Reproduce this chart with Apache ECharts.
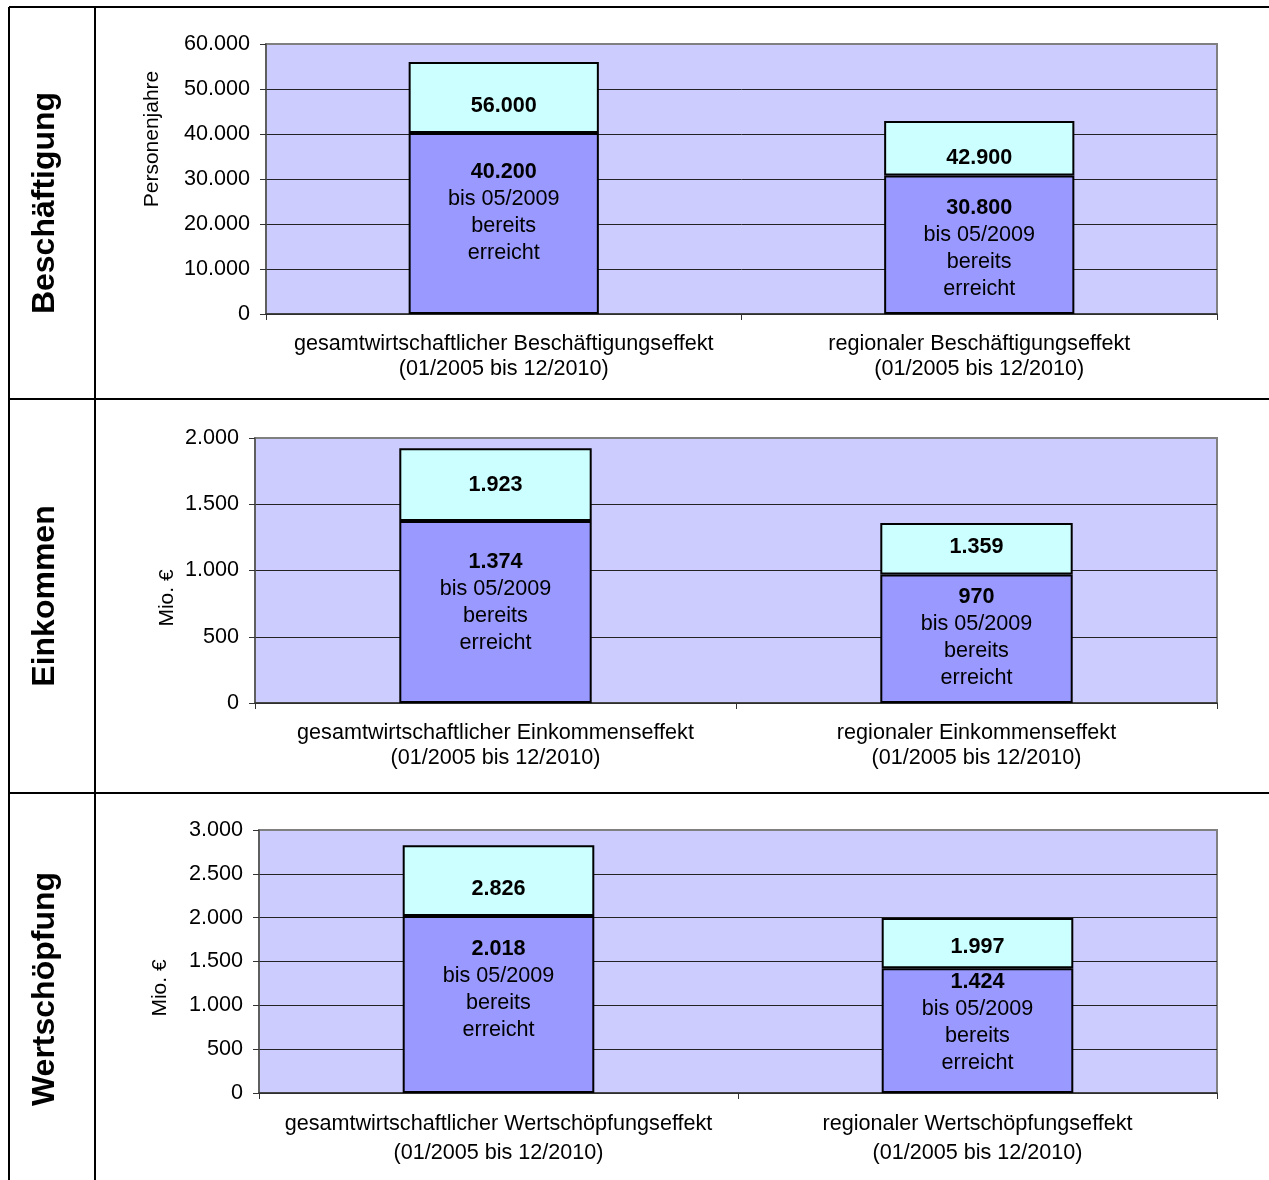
<!DOCTYPE html>
<html>
<head>
<meta charset="utf-8">
<title>Beschäftigungs-, Einkommens- und Wertschöpfungseffekte</title>
<script src="https://cdn.jsdelivr.net/npm/echarts@6/dist/echarts.min.js"></script>
<style>
  html, body { margin: 0; padding: 0; background: #fff; }
  #chart { width: 1269px; height: 1180px; }
</style>
</head>
<body>
<div id="chart"></div>
<script>
// Row titles and axis names
const rowTitles = ['Beschäftigung', 'Einkommen', 'Wertschöpfung'];
const axisNames = ['Personenjahre', 'Mio. €', 'Mio. €'];

// Categories per panel
const jobsCategories = ['gesamtwirtschaftlicher Beschäftigungseffekt\n(01/2005 bis 12/2010)', 'regionaler Beschäftigungseffekt\n(01/2005 bis 12/2010)'];
const incomeCategories = ['gesamtwirtschaftlicher Einkommenseffekt\n(01/2005 bis 12/2010)', 'regionaler Einkommenseffekt\n(01/2005 bis 12/2010)'];
const valueCategories = ['gesamtwirtschaftlicher Wertschöpfungseffekt\n(01/2005 bis 12/2010)', 'regionaler Wertschöpfungseffekt\n(01/2005 bis 12/2010)'];

// Totals (01/2005 - 12/2010) and the part already reached by 05/2009
const jobsTotal = [56000, 42900];
const jobsReached = [40200, 30800];
const incomeTotal = [1923, 1359];
const incomeReached = [1374, 970];
const valueTotal = [2826, 1997];
const valueReached = [2018, 1424];

// Note text under the reached value
const reachedNote = ['bis 05/2009', 'bereits', 'erreicht'];

// Value axis ranges
const axisMax = [60000, 2000, 3000];
const axisInterval = [10000, 500, 500];

const FONT = "'Liberation Sans', Arial, sans-serif";
const FS = 21.6;

function fmt(v) {
  return String(Math.round(v)).replace(/\B(?=(\d{3})+(?!\d))/g, '.');
}

// Panel layout (pixels) and label fine-tuning
const panels = [
  { cats: jobsCategories, total: jobsTotal, reached: jobsReached,
    left: 266, top: 44, height: 270, lineHeight: 25, margin: 18,
    topDy: [8, 10], botDy: [-11, 4], nameX: 152, nameY: 139, titleY: 203 },
  { cats: incomeCategories, total: incomeTotal, reached: incomeReached,
    left: 255, top: 438, height: 265, lineHeight: 25, margin: 18,
    topDy: [0, -2], botDy: [-9, -1], nameX: 167, nameY: 598, titleY: 596 },
  { cats: valueCategories, total: valueTotal, reached: valueReached,
    left: 259, top: 830, height: 263, lineHeight: 29, margin: 17,
    topDy: [8, 4], botDy: [-15, -8], nameX: 160, nameY: 988, titleY: 989 }
];

const grids = [], xAxes = [], yAxes = [], series = [], graphics = [];

panels.forEach((p, i) => {
  grids.push({
    left: p.left, right: 52, top: p.top, height: p.height,
    show: true, backgroundColor: '#CCCCFF', borderColor: '#808080', borderWidth: 2
  });
  xAxes.push({
    type: 'category', gridIndex: i, data: p.cats,
    axisLine: { show: true, lineStyle: { color: '#333', width: 1.5 } },
    axisTick: { show: true, length: 6, lineStyle: { color: '#333' } },
    axisLabel: { color: '#000', fontFamily: FONT, fontSize: FS, lineHeight: p.lineHeight,
      margin: p.margin, interval: 0, align: 'center' },
    splitLine: { show: false }
  });
  yAxes.push({
    type: 'value', gridIndex: i, min: 0, max: axisMax[i], interval: axisInterval[i],
    axisLine: { show: true, lineStyle: { color: '#555', width: 1.5 } },
    axisTick: { show: true, length: 6, lineStyle: { color: '#333' } },
    axisLabel: { color: '#000', fontFamily: FONT, fontSize: FS, margin: 16, formatter: fmt },
    splitLine: { show: true, showMaxLine: false, lineStyle: { color: '#222', width: 1 } }
  });

  // Part already reached by 05/2009
  series.push({
    type: 'bar', xAxisIndex: i, yAxisIndex: i, stack: 's' + i, barWidth: '40%',
    itemStyle: { color: '#9999FF', borderColor: '#000', borderWidth: 2 },
    data: p.reached.map((v, k) => ({
      value: v,
      label: { offset: [0, p.botDy[k]] }
    })),
    label: {
      show: true, position: 'inside', color: '#000', fontFamily: FONT, fontSize: FS,
      lineHeight: 27,
      formatter: (d) => '{b|' + fmt(d.value) + '}\n' + reachedNote.join('\n'),
      rich: { b: { fontWeight: 'bold', fontSize: FS, fontFamily: FONT, lineHeight: 27, color: '#000' } }
    },
    z: 3
  });
  // Remainder up to the total effect, labelled with the total
  series.push({
    type: 'bar', xAxisIndex: i, yAxisIndex: i, stack: 's' + i, barWidth: '40%',
    itemStyle: { color: '#CCFFFF', borderColor: '#000', borderWidth: 2 },
    data: p.total.map((v, k) => ({
      value: v - p.reached[k],
      label: { offset: [0, p.topDy[k]] }
    })),
    label: {
      show: true, position: 'inside', color: '#000', fontFamily: FONT, fontSize: FS,
      fontWeight: 'bold',
      formatter: (d) => fmt(p.total[d.dataIndex])
    },
    z: 3
  });

  // Row title and axis name
  graphics.push({
    type: 'text', x: 45, y: p.titleY, rotation: Math.PI / 2,
    style: { text: rowTitles[i], font: 'bold 32px ' + FONT, fill: '#000',
      textAlign: 'center', textVerticalAlign: 'middle' }
  });
  graphics.push({
    type: 'text', x: p.nameX, y: p.nameY, rotation: Math.PI / 2,
    style: { text: axisNames[i], font: '21px ' + FONT, fill: '#000',
      textAlign: 'center', textVerticalAlign: 'middle' }
  });
});

// Table frame
const frame = { stroke: '#000', lineWidth: 2 };
[
  [9, 7, 1269, 7],
  [9, 399, 1269, 399],
  [9, 793, 1269, 793],
  [9, 7, 9, 1180],
  [95, 7, 95, 1180]
].forEach(([x1, y1, x2, y2]) => {
  graphics.push({ type: 'line', shape: { x1, y1, x2, y2 }, style: frame, z: 10 });
});

const chart = echarts.init(document.getElementById('chart'), null, { renderer: 'canvas' });
chart.setOption({
  animation: false,
  backgroundColor: '#fff',
  grid: grids,
  xAxis: xAxes,
  yAxis: yAxes,
  series: series,
  graphic: graphics
});
</script>
</body>
</html>
